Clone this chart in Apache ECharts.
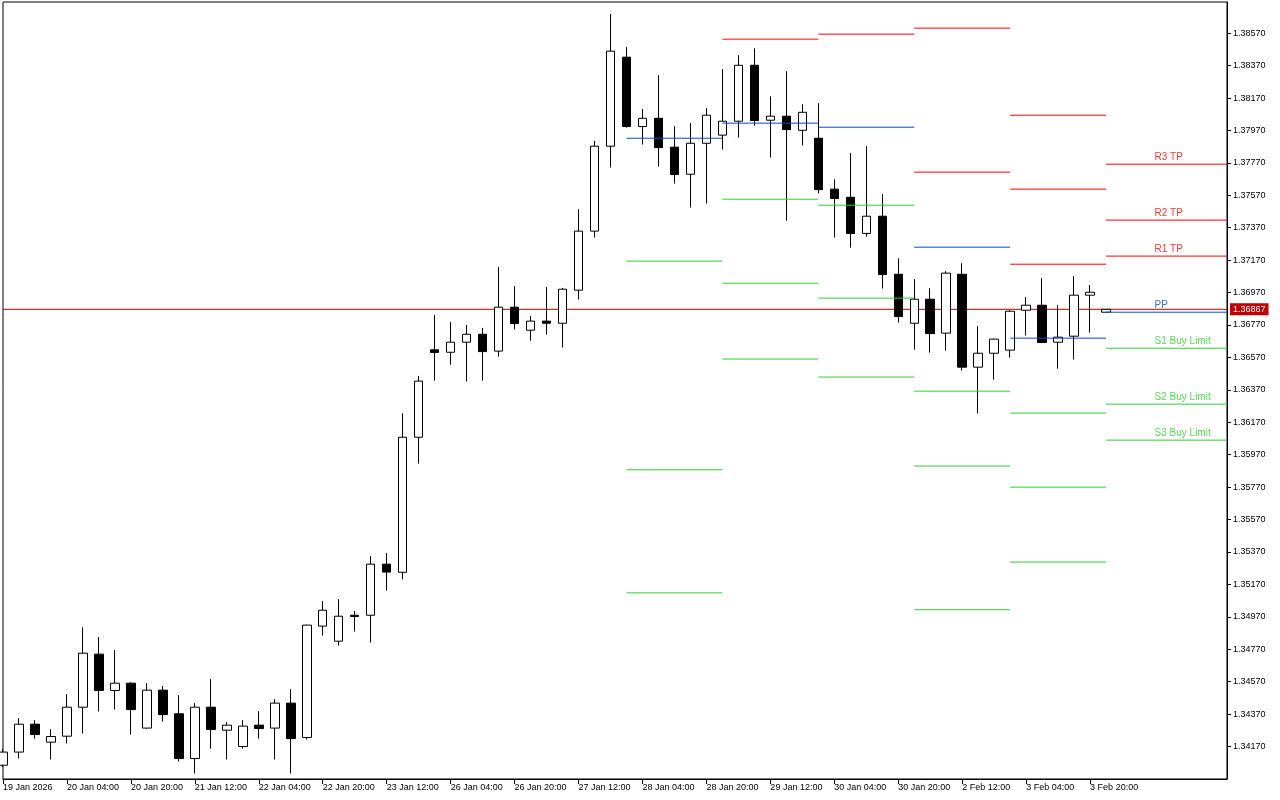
<!DOCTYPE html>
<html>
<head>
<meta charset="utf-8">
<title>H4 pivots</title>
<script src="https://cdn.jsdelivr.net/npm/echarts@6/dist/echarts.min.js"></script>
<style>
  html, body { margin: 0; padding: 0; background: #fff; }
  #chart { width: 1280px; height: 800px; }
</style>
</head>
<body>
<div id="chart"></div>
<script>
// x axis labels, one every 4 bars (H4)
var timeLabels = ['19 Jan 2026', '20 Jan 04:00', '20 Jan 20:00', '21 Jan 12:00', '22 Jan 04:00', '22 Jan 20:00',
  '23 Jan 12:00', '26 Jan 04:00', '26 Jan 20:00', '27 Jan 12:00', '28 Jan 04:00', '28 Jan 20:00',
  '29 Jan 12:00', '30 Jan 04:00', '30 Jan 20:00', '2 Feb 12:00', '3 Feb 04:00', '3 Feb 20:00'];

// candles
var openP = [1.34055, 1.34136, 1.34308, 1.34197, 1.34234, 1.34413, 1.34740, 1.34516, 1.34561, 1.34284,
  1.34518, 1.34372, 1.34096, 1.34413, 1.34271, 1.34170, 1.34302, 1.34284, 1.34438, 1.34226,
  1.34913, 1.34820, 1.34980, 1.34980, 1.35295, 1.35245, 1.36078, 1.36617, 1.36602, 1.36664,
  1.36713, 1.36609, 1.36880, 1.36738, 1.36794, 1.36781, 1.36985, 1.37349, 1.37873, 1.38422,
  1.37994, 1.38045, 1.37867, 1.37700, 1.37891, 1.37941, 1.38027, 1.38372, 1.38033, 1.38058,
  1.37971, 1.37922, 1.37608, 1.37558, 1.37335, 1.37441, 1.37083, 1.36781, 1.36929, 1.36720,
  1.37083, 1.36510, 1.36596, 1.36615, 1.36861, 1.36892, 1.36664, 1.36701, 1.36954, 1.36849];
var closeP = [1.34136, 1.34308, 1.34244, 1.34232, 1.34413, 1.34746, 1.34516, 1.34561, 1.34398, 1.34518,
  1.34367, 1.34096, 1.34413, 1.34275, 1.34302, 1.34296, 1.34281, 1.34438, 1.34219, 1.34919,
  1.35011, 1.34974, 1.34972, 1.35295, 1.35246, 1.36078, 1.36424, 1.36600, 1.36664, 1.36713,
  1.36606, 1.36880, 1.36779, 1.36794, 1.36781, 1.36991, 1.37349, 1.37873, 1.38459, 1.37994,
  1.38045, 1.37864, 1.37698, 1.37891, 1.38064, 1.38027, 1.38372, 1.38031, 1.38058, 1.37975,
  1.38082, 1.37605, 1.37550, 1.37334, 1.37441, 1.37081, 1.36822, 1.36929, 1.36717, 1.37090,
  1.36510, 1.36596, 1.36683, 1.36855, 1.36892, 1.36662, 1.36695, 1.36954, 1.36972, 1.36867];
var lowP = [1.34045, 1.34096, 1.34219, 1.34090, 1.34189, 1.34250, 1.34386, 1.34398, 1.34244, 1.34280,
  1.34324, 1.34078, 1.34004, 1.34158, 1.34090, 1.34158, 1.34219, 1.34090, 1.34004, 1.34213,
  1.34855, 1.34793, 1.34879, 1.34812, 1.35132, 1.35201, 1.35915, 1.36427, 1.36526, 1.36421,
  1.36427, 1.36575, 1.36742, 1.36674, 1.36711, 1.36631, 1.36927, 1.37309, 1.37741, 1.37988,
  1.37883, 1.37747, 1.37642, 1.37494, 1.37519, 1.37852, 1.37926, 1.38000, 1.37803, 1.37414,
  1.37877, 1.37581, 1.37309, 1.37247, 1.37315, 1.36995, 1.36785, 1.36618, 1.36600, 1.36612,
  1.36489, 1.36224, 1.36433, 1.36569, 1.36705, 1.36660, 1.36501, 1.36557, 1.36723, 1.36848];
var highP = [1.34156, 1.34345, 1.34333, 1.34277, 1.34493, 1.34906, 1.34845, 1.34765, 1.34567, 1.34561,
  1.34543, 1.34487, 1.34438, 1.34586, 1.34321, 1.34333, 1.34388, 1.34462, 1.34524, 1.34922,
  1.35067, 1.35079, 1.35007, 1.35344, 1.35363, 1.36226, 1.36456, 1.36832, 1.36789, 1.36771,
  1.36752, 1.37128, 1.37011, 1.36826, 1.37005, 1.36999, 1.37484, 1.37906, 1.38689, 1.38485,
  1.38103, 1.38311, 1.37996, 1.38015, 1.38107, 1.38348, 1.38434, 1.38477, 1.38181, 1.38335,
  1.38132, 1.38138, 1.37669, 1.37830, 1.37873, 1.37577, 1.37182, 1.37053, 1.36997, 1.37102,
  1.37151, 1.36763, 1.36686, 1.36861, 1.36942, 1.37059, 1.36892, 1.37071, 1.37016, 1.36868];

// daily pivots: first bar of each day (28 Jan .. 4 Feb)
var pivotStart = [39, 45, 51, 57, 63, 69];
var r3 = [null, null, null, null, 1.38064, 1.37762];
var r2 = [null, null, null, 1.38601, 1.37608, 1.37417];
var r1 = [null, 1.38533, 1.38564, 1.37713, 1.37145, 1.37195];
var pp = [1.37922, 1.38015, 1.37990, 1.37250, 1.36689, 1.36849];
var s1 = [1.37164, 1.37546, 1.37509, 1.36362, 1.36227, 1.36627];
var s2 = [1.35877, 1.37028, 1.36936, 1.35900, 1.35770, 1.36282];
var s3 = [1.35118, 1.36560, 1.36449, 1.35014, 1.35308, 1.36060];
var pivotNames = ['R3 TP', 'R2 TP', 'R1 TP', 'PP', 'S1 Buy Limit', 'S2 Buy Limit', 'S3 Buy Limit'];

var lastPrice = 1.36867;

var xMax = 76.5625;   // empty space right of last bar
var labelBar = 72;    // where the pivot texts start
var RED = '#ff0000', BLUE = '#0d47d0', GREEN = '#32cd32';

var candles = openP.map(function (o, i) {
  return [i, o, closeP[i], lowP[i], highP[i]];
});
var labelTicks = timeLabels.map(function (t, i) { return i * 4; });

function levelSeries(name, values, color) {
  var pts = [];
  values.forEach(function (v, d) {
    if (v == null) return;
    var end = d + 1 < pivotStart.length ? pivotStart[d + 1] : xMax;
    pts.push([pivotStart[d], v], [end, v], [end, '-']);
  });
  return {
    name: name,
    type: 'line',
    data: pts,
    symbol: 'none',
    z: 5,
    silent: true,
    animation: false,
    lineStyle: { color: color, width: 1 },
  };
}

var levels = [r3, r2, r1, pp, s1, s2, s3];
var levelColors = [RED, RED, RED, BLUE, GREEN, GREEN, GREEN];

var chart = echarts.init(document.getElementById('chart'), null, { renderer: 'canvas' });

var series = [
  {
    // bid line, drawn behind candles
    name: 'bid',
    type: 'line',
    data: [[0, lastPrice], [xMax, lastPrice]],
    symbol: 'none',
    z: 1,
    silent: true,
    animation: false,
    lineStyle: { color: '#b40000', width: 1 },
    endLabel: {
      show: true,
      formatter: function () { return lastPrice.toFixed(5); },
      color: '#fff',
      backgroundColor: '#c00000',
      fontSize: 9,
      fontFamily: 'Liberation Sans',
      padding: [2, 3, 1, 3],
      distance: 3,
    },
  },
  {
    name: 'price',
    type: 'candlestick',
    data: candles,
    encode: { x: 0, y: [1, 2, 3, 4] },
    barWidth: 9,
    clip: true,
    z: 2,
    animation: false,
    itemStyle: {
      color: '#ffffff',
      color0: '#000000',
      borderColor: '#000000',
      borderColor0: '#000000',
      borderWidth: 1,
    },
  },
];

levels.forEach(function (lv, k) {
  series.push(levelSeries(pivotNames[k], lv, levelColors[k]));
});

// texts on the last day's levels
series.push({
  name: 'labels',
  type: 'scatter',
  symbolSize: 1,
  z: 6,
  silent: true,
  animation: false,
  itemStyle: { color: 'rgba(0,0,0,0)' },
  data: levels.map(function (lv, k) {
    return {
      value: [labelBar, lv[lv.length - 1]],
      label: {
        show: true,
        position: 'right',
        distance: 0,
        offset: [0, -7],
        formatter: pivotNames[k],
        color: levelColors[k],
        fontSize: 10,
        fontFamily: 'Liberation Sans',
      },
    };
  }),
});

chart.setOption({
  animation: false,
  backgroundColor: '#ffffff',
  textStyle: { fontFamily: 'Liberation Sans' },
  grid: {
    left: 2,
    right: 53,
    top: 2,
    bottom: 21,
    show: true,
    borderColor: '#000',
    borderWidth: 1,
    backgroundColor: '#fff',
  },
  xAxis: {
    type: 'value',
    min: 0,
    max: xMax,
    interval: 4,
    axisLine: { show: true, onZero: false, lineStyle: { color: '#000' } },
    axisTick: { show: true, length: 5, customValues: labelTicks, lineStyle: { color: '#000' } },
    splitLine: { show: false },
    axisLabel: {
      color: '#000',
      fontSize: 9,
      align: 'left',
      margin: 4,
      customValues: labelTicks,
      formatter: function (v) {
        return timeLabels[Math.round(v / 4)] || '';
      },
    },
  },
  yAxis: {
    type: 'value',
    position: 'right',
    min: 1.3397,
    max: 1.387622,
    interval: 0.002,
    axisLine: { show: true, onZero: false, lineStyle: { color: '#000' } },
    axisTick: { show: true, length: 4, lineStyle: { color: '#000' } },
    splitLine: { show: false },
    axisLabel: {
      color: '#000',
      fontSize: 9,
      margin: 6,
      showMinLabel: false,
      showMaxLabel: false,
      formatter: function (v) { return v.toFixed(5); },
    },
  },
  series: series,
});
</script>
</body>
</html>
